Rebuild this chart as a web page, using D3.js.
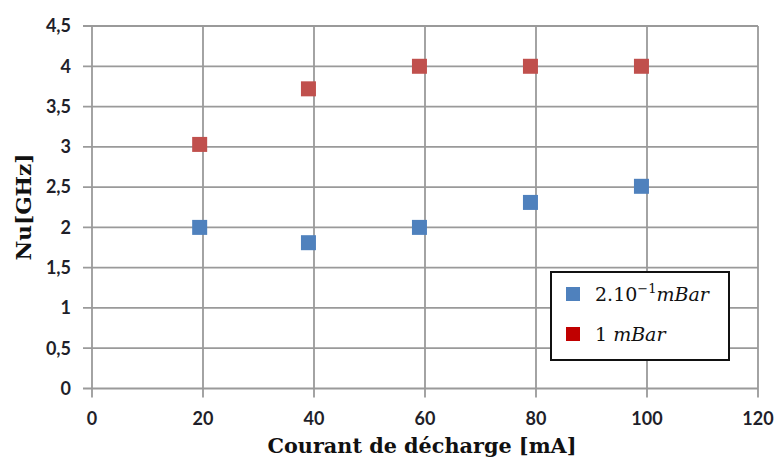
<!DOCTYPE html>
<html>
<head>
<meta charset="utf-8">
<script src="https://cdn.jsdelivr.net/npm/d3@7"></script>
<style>
  body { margin: 0; background: #fff; }
  #chart { width: 775px; height: 459px; }
</style>
</head>
<body>
<div id="chart"></div>
<script>
// values
const courant = [19.4, 39, 59, 79, 99];
const nuLowP = [2.0, 1.81, 2.0, 2.31, 2.51];   // 2.10^-1 mBar
const nuHighP = [3.03, 3.72, 4.0, 4.0, 4.0];   // 1 mBar
const xTicks = [0, 20, 40, 60, 80, 100, 120];
const yTicks = [0, 0.5, 1, 1.5, 2, 2.5, 3, 3.5, 4, 4.5];

const width = 775, height = 459;
const margin = { left: 92, right: 17, top: 26, bottom: 70.5 };
const innerW = width - margin.left - margin.right;
const innerH = height - margin.top - margin.bottom;

const svg = d3.select("#chart").append("svg")
  .attr("width", width).attr("height", height);

const g = svg.append("g")
  .attr("transform", `translate(${margin.left},${margin.top})`);

const x = d3.scaleLinear().domain([0, 120]).range([0, innerW]);
const y = d3.scaleLinear().domain([0, 4.5]).range([innerH, 0]);

const gridColor = "#9a9a9a";
const labelFont = "Lato, 'Open Sans', sans-serif";

// horizontal grid + left tick stubs
g.selectAll(".hgrid").data(yTicks).join("line")
  .attr("class", "hgrid")
  .attr("x1", -9).attr("x2", innerW)
  .attr("y1", d => y(d)).attr("y2", d => y(d))
  .attr("stroke", gridColor).attr("stroke-width", 1.8);

// vertical grid + bottom tick stubs
g.selectAll(".vgrid").data(xTicks).join("line")
  .attr("class", "vgrid")
  .attr("x1", d => x(d)).attr("x2", d => x(d))
  .attr("y1", 0).attr("y2", innerH + 9)
  .attr("stroke", gridColor).attr("stroke-width", 1.8);

// y tick labels
g.selectAll(".ylab").data(yTicks).join("text")
  .attr("class", "ylab")
  .attr("x", -21).attr("y", d => y(d))
  .attr("dy", "0.35em")
  .attr("text-anchor", "end")
  .attr("font-family", labelFont).attr("font-size", 18).attr("font-weight", "bold")
  .attr("fill", "#1f1f2a")
  .text(d => String(d).replace(".", ","));

// x tick labels
g.selectAll(".xlab").data(xTicks).join("text")
  .attr("class", "xlab")
  .attr("x", d => x(d)).attr("y", innerH + 36)
  .attr("text-anchor", "middle")
  .attr("font-family", labelFont).attr("font-size", 18).attr("font-weight", "bold")
  .attr("fill", "#1f1f2a")
  .text(d => d);

// axis titles
svg.append("text")
  .attr("x", 422).attr("y", 453)
  .attr("text-anchor", "middle")
  .attr("font-family", "'DejaVu Serif', serif").attr("font-weight", "bold")
  .attr("font-size", 20)
  .attr("textLength", 309).attr("lengthAdjust", "spacingAndGlyphs")
  .attr("fill", "#111")
  .text("Courant de décharge [mA]");

svg.append("text")
  .attr("transform", "translate(31,207) rotate(-90)")
  .attr("text-anchor", "middle")
  .attr("font-family", "'DejaVu Serif', serif").attr("font-weight", "bold")
  .attr("font-size", 21)
  .attr("textLength", 107).attr("lengthAdjust", "spacingAndGlyphs")
  .attr("fill", "#111")
  .text("Nu[GHz]");

// points
const ms = 15;
const series = [
  { name: "low", values: nuLowP, color: "#4F81BD" },
  { name: "high", values: nuHighP, color: "#C0504D" }
];
series.forEach(s => {
  g.selectAll(".pt-" + s.name)
    .data(courant.map((c, i) => [c, s.values[i]]))
    .join("rect")
    .attr("class", "pt-" + s.name)
    .attr("x", d => x(d[0]) - ms / 2)
    .attr("y", d => y(d[1]) - ms / 2)
    .attr("width", ms).attr("height", ms)
    .attr("fill", s.color);
});

// legend
const leg = svg.append("g").attr("transform", "translate(551,272)");
leg.append("rect")
  .attr("width", 178).attr("height", 88)
  .attr("fill", "#fff").attr("stroke", "#111").attr("stroke-width", 2);
leg.append("rect").attr("x", 15).attr("y", 15).attr("width", 14).attr("height", 14).attr("fill", "#4F81BD");
leg.append("rect").attr("x", 15).attr("y", 55).attr("width", 14).attr("height", 14).attr("fill", "#C00000");

const t1 = leg.append("text").attr("x", 44).attr("y", 29)
  .attr("font-family", "'DejaVu Serif', serif").attr("font-size", 19).attr("fill", "#111");
t1.append("tspan").text("2.10");
t1.append("tspan").attr("dy", -8).attr("font-size", 13).text("−1");
t1.append("tspan").attr("dy", 8).attr("font-style", "italic").text("mBar");

const t2 = leg.append("text").attr("x", 44).attr("y", 69)
  .attr("font-family", "'DejaVu Serif', serif").attr("font-size", 19).attr("fill", "#111");
t2.append("tspan").text("1 ");
t2.append("tspan").attr("font-style", "italic").text("mBar");
</script>
</body>
</html>
